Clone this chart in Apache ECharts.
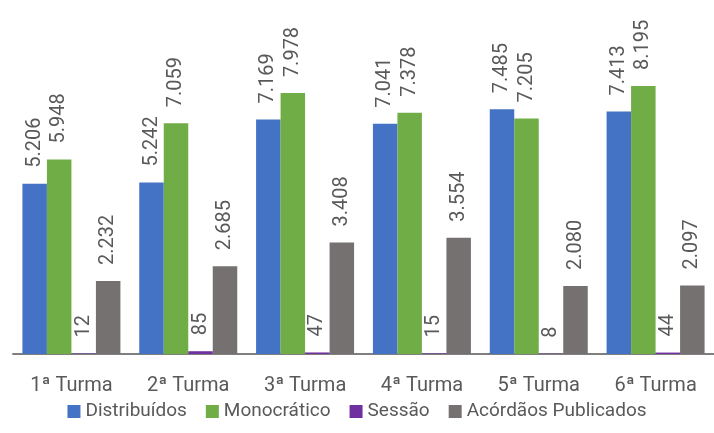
<!DOCTYPE html>
<html>
<head>
<meta charset="utf-8">
<script src="https://cdn.jsdelivr.net/npm/echarts@6/dist/echarts.min.js"></script>
<style>
  html, body { margin: 0; padding: 0; background: #fff; }
  #chart { width: 714px; height: 433px; }
</style>
</head>
<body>
<div id="chart"></div>
<script>
  // categorias e valores
  var turmas = ['1ª Turma', '2ª Turma', '3ª Turma', '4ª Turma', '5ª Turma', '6ª Turma'];
  var distribuidos = [5206, 5242, 7169, 7041, 7485, 7413];
  var monocratico = [5948, 7059, 7978, 7378, 7205, 8195];
  var sessao = [12, 85, 47, 15, 8, 44];
  var acordaos = [2232, 2685, 3408, 3554, 2080, 2097];

  var fonte = 'Roboto, sans-serif';
  var corTexto = '#595959';

  // separador de milhar com ponto
  function fmt(v) {
    var s = String(v);
    if (s.length > 3) s = s.slice(0, s.length - 3) + '.' + s.slice(s.length - 3);
    return s;
  }

  function serie(nome, dados, cor) {
    return {
      name: nome,
      type: 'bar',
      data: dados,
      barWidth: 24.5,
      barGap: '0%',
      itemStyle: { color: cor },
      label: {
        show: true,
        position: 'top',
        rotate: 90,
        align: 'left',
        verticalAlign: 'middle',
        distance: 16,
        color: corTexto,
        fontFamily: fonte,
        fontSize: 20,
        formatter: function (p) { return fmt(p.value); }
      }
    };
  }

  var chart = echarts.init(document.getElementById('chart'));
  chart.setOption({
    animation: false,
    grid: { left: 13, right: -2, top: 27, bottom: 79, containLabel: false },
    legend: {
      bottom: 7,
      left: 'center',
      itemWidth: 13,
      itemHeight: 13,
      itemGap: 19,
      icon: 'rect',
      textStyle: { color: corTexto, fontFamily: fonte, fontSize: 19 },
      data: ['Distribuídos', 'Monocrático', 'Sessão', 'Acórdãos Publicados']
    },
    xAxis: {
      type: 'category',
      data: turmas,
      axisLine: { lineStyle: { color: '#7f7f7f', width: 2 } },
      axisTick: { show: false },
      axisLabel: { color: corTexto, fontFamily: fonte, fontSize: 20, margin: 22 }
    },
    yAxis: {
      type: 'value',
      min: 0,
      max: 10000,
      show: false,
      splitLine: { show: false }
    },
    series: [
      serie('Distribuídos', distribuidos, '#4472C4'),
      serie('Monocrático', monocratico, '#70AD47'),
      serie('Sessão', sessao, '#7030A0'),
      serie('Acórdãos Publicados', acordaos, '#767171')
    ]
  });
</script>
</body>
</html>
